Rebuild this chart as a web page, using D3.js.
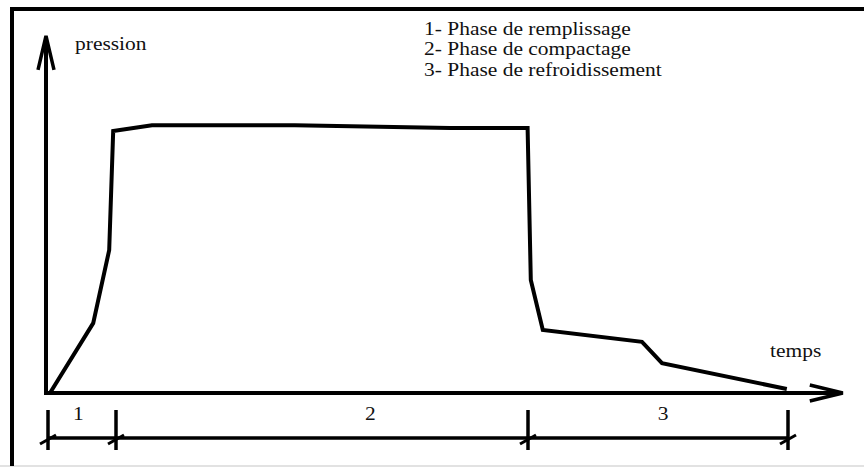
<!DOCTYPE html>
<html>
<head>
<meta charset="utf-8">
<script src="https://cdn.jsdelivr.net/npm/d3@7"></script>
<style>
  body { margin: 0; background: #fff; }
</style>
</head>
<body>
<svg class="chart_svg" width="864" height="468"></svg>
<script>
// pressure curve (time, pressure in arbitrary units)
const timeValues = [0.5, 5.9, 7.9, 8.4, 13.25, 31.1, 50.5, 60.2, 60.6, 62.1, 74.5, 77, 92.6];
const pressureValues = [0, 19.4, 39.7, 72.8, 74.4, 74.4, 73.6, 73.6, 31.4, 17.5, 14.2, 8.3, 1.1];

// phase boundaries on the time axis + where the numbers sit
const phaseBounds = [0.25, 8.75, 60.25, 92.75];
const phaseLabels = ["1", "2", "3"];
const phaseLabelT = [4, 40.5, 77.1];

const legendLines = ["1- Phase de remplissage", "2- Phase de compactage", "3- Phase de refroidissement"];

const svg = d3.select(".chart_svg");
const origin = {x: 46, y: 393};

const x = d3.scaleLinear().domain([0, 100]).range([origin.x, origin.x + 800]);
const y = d3.scaleLinear().domain([0, 100]).range([origin.y, origin.y - 360]);

// frame
svg.append("line").attr("x1", 0).attr("x2", 864).attr("y1", 466).attr("y2", 466)
    .style("stroke", "#e2e2e2").style("stroke-width", 2);
svg.append("path")
    .attr("d", "M12,466 L12,9 L870,9")
    .style("fill", "none").style("stroke", "#000").style("stroke-width", 4);

const ink = g => g.style("fill", "none").style("stroke", "#000").style("stroke-linecap", "butt");

// axes with open arrow heads
const xTip = x(99.6), yTip = y(99.2);
svg.append("line").attr("x1", origin.x - 1).attr("x2", xTip - 2).attr("y1", origin.y).attr("y2", origin.y)
    .call(ink).style("stroke-width", 4);
svg.append("path").attr("d", `M${xTip - 33},${origin.y - 8} L${xTip},${origin.y} L${xTip - 33},${origin.y + 8}`)
    .call(ink).style("stroke-width", 3.5).style("stroke-linejoin", "miter");
svg.append("line").attr("x1", origin.x).attr("x2", origin.x).attr("y1", origin.y + 2).attr("y2", yTip + 2)
    .call(ink).style("stroke-width", 4);
svg.append("path").attr("d", `M${origin.x - 8},${yTip + 34} L${origin.x},${yTip} L${origin.x + 8},${yTip + 34}`)
    .call(ink).style("stroke-width", 3.5).style("stroke-linejoin", "miter");

// pressure curve
const pts = timeValues.map((t, i) => ({t: t, p: pressureValues[i]}));
const line = d3.line().x(d => x(d.t)).y(d => y(d.p));
svg.append("path").datum(pts).attr("d", line)
    .call(ink).style("stroke-width", 4).style("stroke-linejoin", "miter");

// phase bracket
const bracketY = 438;
svg.append("line")
    .attr("x1", x(phaseBounds[0])).attr("x2", x(phaseBounds[phaseBounds.length - 1]))
    .attr("y1", bracketY).attr("y2", bracketY)
    .call(ink).style("stroke-width", 3.5);
svg.selectAll(".ptick").data(phaseBounds).enter().append("line")
    .attr("class", "ptick")
    .attr("x1", d => x(d)).attr("x2", d => x(d))
    .attr("y1", 410).attr("y2", 450)
    .call(ink).style("stroke-width", 3.5);
svg.selectAll(".pslash").data(phaseBounds).enter().append("line")
    .attr("class", "pslash")
    .attr("x1", d => x(d) - 8).attr("x2", d => x(d) + 8)
    .attr("y1", bracketY + 6).attr("y2", bracketY - 3)
    .call(ink).style("stroke-width", 3);

// text (the source font is a little wide, so stretch it)
const sx = 1.13;
function label(txt, px, py) {
    svg.append("text")
        .attr("transform", `translate(${px},${py}) scale(${sx},1)`)
        .attr("font-family", "'Liberation Serif', 'DejaVu Serif', serif")
        .attr("font-size", "19px")
        .attr("fill", "#111")
        .text(txt);
}
phaseLabels.forEach((s, i) => label(s, x(phaseLabelT[i]) - 5, 420));
label("pression", 75, 50);
label("temps", 770, 357);
legendLines.forEach((s, i) => label(s, 424, 34.5 + i * 20.5));
</script>
</body>
</html>
